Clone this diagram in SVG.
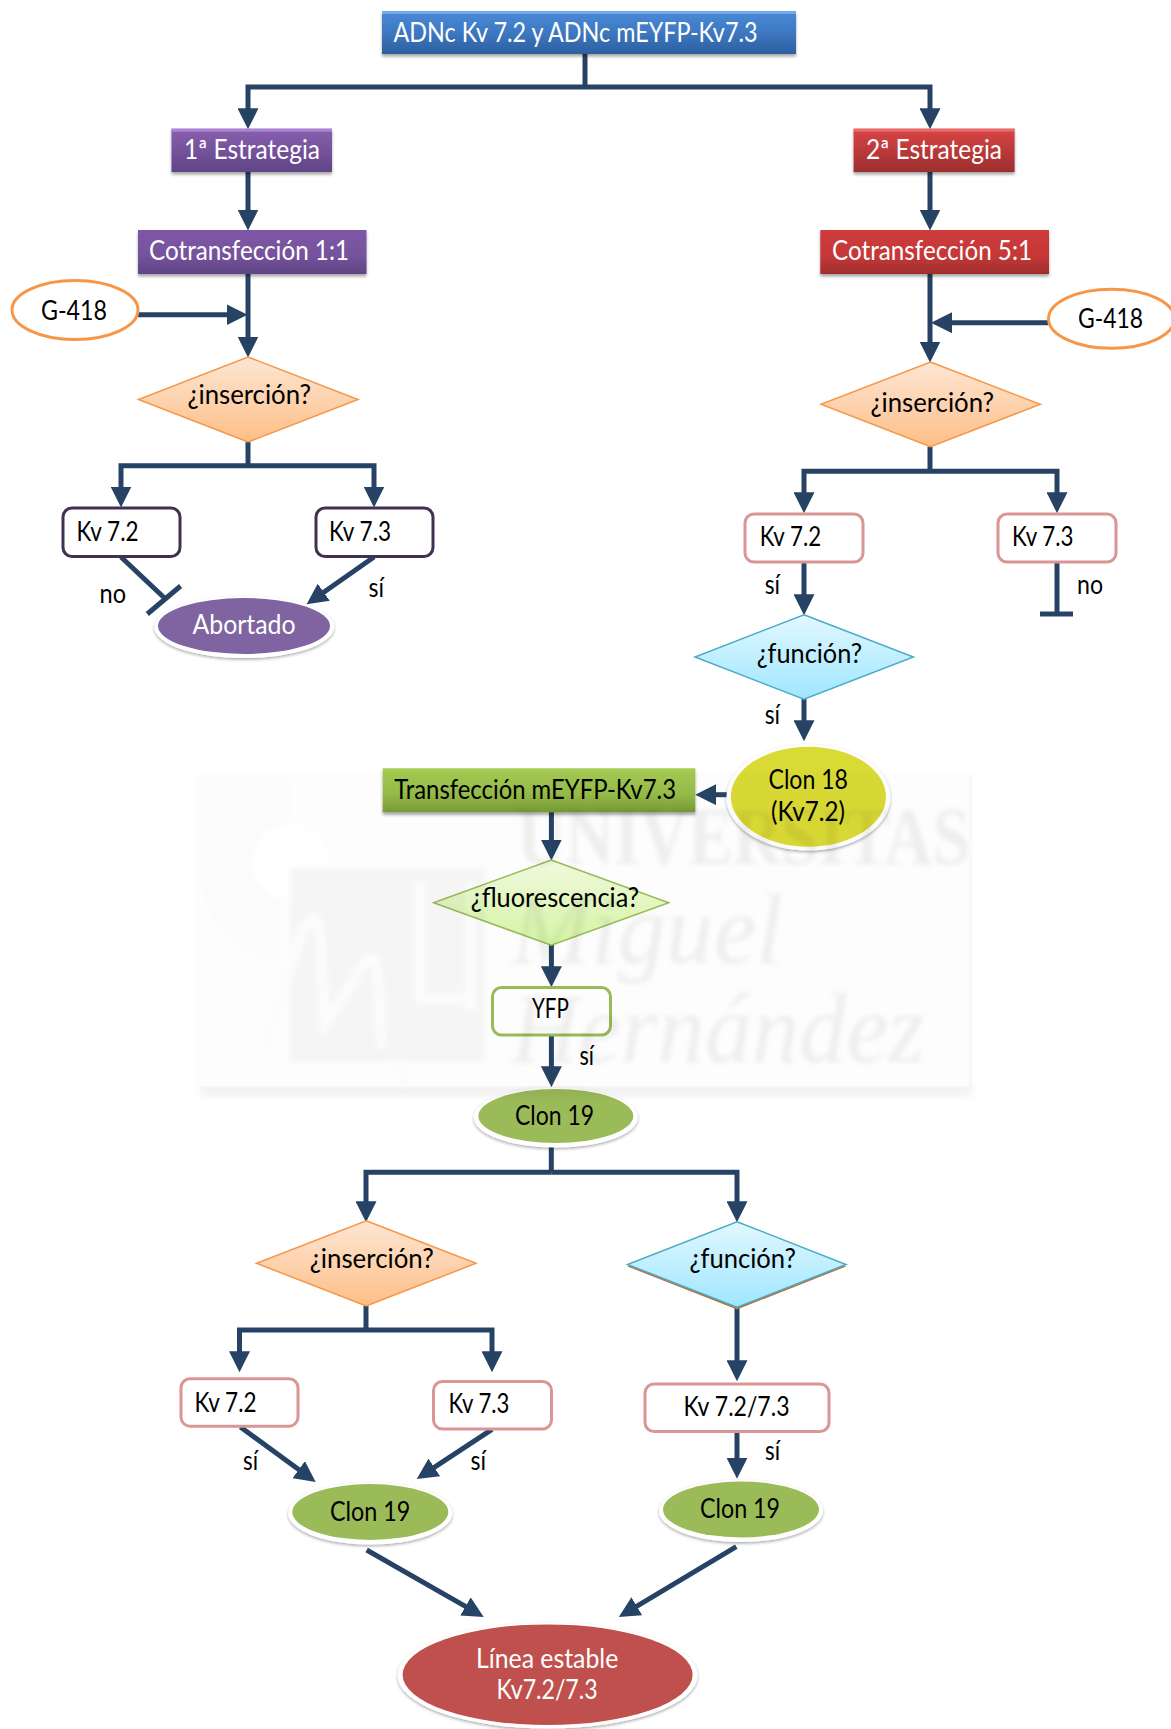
<svg xmlns="http://www.w3.org/2000/svg" width="1171" height="1729" viewBox="0 0 1171 1729">
<style>
text{font-family:"Lato","Carlito","Liberation Sans",sans-serif;font-size:26px;fill:#000}
text.w{fill:#fff}
.c{fill:none;stroke:#264365;stroke-width:5}
.a{marker-end:url(#head)}
.rw{fill:#fff;stroke-width:3}
.wt{font-family:"Liberation Serif",serif;fill:#eeeeee}
</style>
<defs>
<marker id="head" viewBox="0 0 21 21" markerWidth="21" markerHeight="21" refX="10.5" refY="10.5" orient="auto" markerUnits="userSpaceOnUse"><path d="M0,0L21,10.5L0,21z" fill="#264365"/></marker>
<filter id="sh" x="-10%" y="-15%" width="120%" height="140%"><feDropShadow dx="0" dy="2.5" stdDeviation="1.8" flood-color="#000" flood-opacity=".35"/></filter>
<filter id="sh2" x="-10%" y="-15%" width="120%" height="140%"><feDropShadow dx="0" dy="1.5" stdDeviation="1.4" flood-color="#000" flood-opacity=".35"/></filter>
<filter id="bl" x="-5%" y="-5%" width="110%" height="110%"><feGaussianBlur stdDeviation="2.4"/></filter>
<filter id="bl2" x="-5%" y="-30%" width="110%" height="160%"><feGaussianBlur stdDeviation="4"/></filter>
<linearGradient id="gBlue" x1="0" y1="0" x2="0" y2="1"><stop offset="0" stop-color="#4a8ad8"/><stop offset=".45" stop-color="#3f7ac4"/><stop offset="1" stop-color="#2c5f9f"/></linearGradient>
<linearGradient id="gPur" x1="0" y1="0" x2="0" y2="1"><stop offset="0" stop-color="#8a5fb0"/><stop offset="1" stop-color="#5f4686"/></linearGradient>
<linearGradient id="gPur2" x1="0" y1="0" x2="0" y2="1"><stop offset="0" stop-color="#7e58a6"/><stop offset=".6" stop-color="#75529c"/><stop offset="1" stop-color="#5e4483"/></linearGradient>
<linearGradient id="gRed" x1="0" y1="0" x2="0" y2="1"><stop offset="0" stop-color="#d94444"/><stop offset="1" stop-color="#9d2f2f"/></linearGradient>
<linearGradient id="gRed2" x1="0" y1="0" x2="0" y2="1"><stop offset="0" stop-color="#cf3b3b"/><stop offset=".6" stop-color="#c53838"/><stop offset="1" stop-color="#9f2e2e"/></linearGradient>
<linearGradient id="gGrn" x1="0" y1="0" x2="0" y2="1"><stop offset="0" stop-color="#a6cc52"/><stop offset=".6" stop-color="#95bb48"/><stop offset="1" stop-color="#769a35"/></linearGradient>
<linearGradient id="gOr" x1="0" y1="0" x2="0" y2="1"><stop offset="0" stop-color="#fde6d4"/><stop offset="1" stop-color="#fdbf88"/></linearGradient>
<linearGradient id="gCy" x1="0" y1="0" x2="0" y2="1"><stop offset="0" stop-color="#e2f8ff"/><stop offset="1" stop-color="#9fe6ff"/></linearGradient>
<linearGradient id="gLg" x1="0" y1="0" x2="0" y2="1"><stop offset="0" stop-color="#f1fbdf"/><stop offset="1" stop-color="#d7f6a6"/></linearGradient>
</defs>
<rect width="1171" height="1729" fill="#fff"/>

<g id="connectors" class="connectors">
<path class="c" d="M585,54V87"/>
<path class="c a" d="M585,87H248V118.7"/>
<path class="c a" d="M585,87H930V118.7"/>
<path class="c a" d="M248,172V220"/>
<path class="c a" d="M930,172V220"/>
<path class="c a" d="M248,274V347"/>
<path class="c a" d="M138,314.7H237"/>
<path class="c a" d="M930,274V352"/>
<path class="c a" d="M1048,322.7H941.5"/>
<path class="c" d="M248,442V465.7"/>
<path class="c a" d="M248,465.7H121V497"/>
<path class="c a" d="M248,465.7H374V497"/>
<path class="c" d="M930,446.7V471.3"/>
<path class="c a" d="M930,471.3H804V502.7"/>
<path class="c a" d="M930,471.3H1057V502.7"/>
<path class="c" d="M121,557L164.5,598"/>
<path class="c" d="M147.3,614L180.6,586"/>
<path class="c a" d="M374,557L315.2,598.3"/>
<path class="c a" d="M804,562V604.7"/>
<path class="c" d="M1057,562V614"/>
<path class="c" d="M1040,614H1073"/>
<path class="c a" d="M804,699V730.7"/>
<path class="c a" d="M727,794.7H705.7"/>
<path class="c a" d="M551.4,812V850"/>
<path class="c a" d="M551.4,945V976.7"/>
<path class="c a" d="M551.4,1035V1076.7"/>
<path class="c" d="M551.3,1147V1172.3"/>
<path class="c a" d="M551.3,1172.3H366V1211.7"/>
<path class="c a" d="M551.3,1172.3H737V1211.7"/>
<path class="c" d="M366,1306V1330"/>
<path class="c a" d="M366,1330H239.5V1361.7"/>
<path class="c a" d="M366,1330H492V1361.7"/>
<path class="c a" d="M737,1307V1370.7"/>
<path class="c a" d="M240.4,1427L307.2,1475.8"/>
<path class="c a" d="M492,1429.3L425.5,1473.2"/>
<path class="c a" d="M737,1432V1468.3"/>
<path class="c a" d="M366.7,1550L474.6,1611.7"/>
<path class="c a" d="M736.3,1546.7L627.8,1611.6"/>
</g>

<g id="n-adnc"><rect x="382" y="11" width="414" height="43" fill="url(#gBlue)" filter="url(#sh)"/><rect x="382" y="11" width="414" height="3" fill="#72aaee"/><text class="w" x="393.5" y="42" textLength="364" lengthAdjust="spacingAndGlyphs">ADNc Kv 7.2 y ADNc mEYFP-Kv7.3</text></g>
<g id="n-est1"><rect x="171.5" y="128.7" width="160.5" height="43.3" fill="url(#gPur)" filter="url(#sh)"/><rect x="171.5" y="128.7" width="160.5" height="3" fill="#ab84d4"/><text class="w" x="184" y="159" textLength="136" lengthAdjust="spacingAndGlyphs">1ª Estrategia</text></g>
<g id="n-est2"><rect x="853.6" y="128.7" width="161" height="43.3" fill="url(#gRed)" filter="url(#sh)"/><rect x="853.6" y="128.7" width="161" height="3" fill="#ea6a6a"/><text class="w" x="866" y="159" textLength="136" lengthAdjust="spacingAndGlyphs">2ª Estrategia</text></g>
<g id="n-cot1"><rect x="138" y="230" width="228.5" height="44" fill="url(#gPur2)" filter="url(#sh)"/><text class="w" x="149" y="260" textLength="200" lengthAdjust="spacingAndGlyphs">Cotransfección 1:1</text></g>
<g id="n-cot5"><rect x="820.3" y="230" width="228.7" height="44" fill="url(#gRed2)" filter="url(#sh)"/><text class="w" x="832" y="260" textLength="200" lengthAdjust="spacingAndGlyphs">Cotransfección 5:1</text></g>
<g id="n-g418a"><ellipse cx="75" cy="310" rx="63" ry="29.5" fill="#fff" stroke="#f79646" stroke-width="3"/><text x="41" y="320" textLength="66" lengthAdjust="spacingAndGlyphs">G-418</text></g>
<g id="n-g418b"><ellipse cx="1111.5" cy="318.7" rx="63" ry="29.5" fill="#fff" stroke="#f79646" stroke-width="3"/><text x="1078" y="328" textLength="65" lengthAdjust="spacingAndGlyphs">G-418</text></g>
<g id="n-ins1"><polygon points="248,357 358,399.5 248,442 138.5,399.5" fill="url(#gOr)" stroke="#f79646" stroke-width="1.5"/><text x="187.5" y="404" textLength="123.5" lengthAdjust="spacingAndGlyphs">¿inserción?</text></g>
<g id="n-ins2"><polygon points="930.5,362 1040.3,404.3 930.5,446.7 821,404.3" fill="url(#gOr)" stroke="#f79646" stroke-width="1.5"/><text x="870.5" y="411.7" textLength="123.5" lengthAdjust="spacingAndGlyphs">¿inserción?</text></g>
<g id="n-k72a"><rect x="63" y="508" width="117" height="48.5" rx="9" class="rw" stroke="#403152"/><text x="76.5" y="540.7" textLength="62" lengthAdjust="spacingAndGlyphs">Kv 7.2</text></g>
<g id="n-k73a"><rect x="316" y="508" width="117" height="48.5" rx="9" class="rw" stroke="#403152"/><text x="329" y="540.7" textLength="62" lengthAdjust="spacingAndGlyphs">Kv 7.3</text></g>
<g id="n-abort"><ellipse cx="244.2" cy="627" rx="90" ry="31" fill="#fff" filter="url(#sh2)"/><ellipse cx="244" cy="626" rx="86" ry="28" fill="#8064a2"/><text class="w" x="192.5" y="634" textLength="103" lengthAdjust="spacingAndGlyphs">Abortado</text></g>
<g id="n-k72b"><rect x="745" y="514" width="118" height="48" rx="9" class="rw" stroke="#d99694"/><text x="759.7" y="546" textLength="61.5" lengthAdjust="spacingAndGlyphs">Kv 7.2</text></g>
<g id="n-k73b"><rect x="998" y="514" width="118" height="48" rx="9" class="rw" stroke="#d99694"/><text x="1012" y="546" textLength="61.5" lengthAdjust="spacingAndGlyphs">Kv 7.3</text></g>
<g id="n-fun1"><polygon points="804,614.7 913.4,657 804,699.3 695,657" fill="url(#gCy)" stroke="#4bacc6" stroke-width="1.5"/><text x="756.7" y="662.7" textLength="105.3" lengthAdjust="spacingAndGlyphs">¿función?</text></g>
<g id="n-c18"><ellipse cx="808.4" cy="797.5" rx="82" ry="53" fill="#fff" filter="url(#sh2)"/><ellipse cx="808.4" cy="796.7" rx="77.5" ry="50" fill="#dada35"/><text x="768.5" y="789.3" textLength="79.5" lengthAdjust="spacingAndGlyphs">Clon 18</text><text x="771" y="820.7" textLength="74" lengthAdjust="spacingAndGlyphs">(Kv7.2)</text></g>
<g id="n-trans"><rect x="382.7" y="768.3" width="312.6" height="44" fill="url(#gGrn)" filter="url(#sh)"/><text x="394.3" y="799.3" textLength="281.7" lengthAdjust="spacingAndGlyphs">Transfección mEYFP-Kv7.3</text></g>
<g id="n-fluo"><polygon points="551.2,860 668.8,902.7 551.2,945.3 433.6,902.7" fill="url(#gLg)" stroke="#9bbb59" stroke-width="1.5"/><text x="470.8" y="907.3" textLength="168.2" lengthAdjust="spacingAndGlyphs">¿fluorescencia?</text></g>
<g id="n-yfp"><rect x="492.5" y="987.5" width="118" height="47.5" rx="9" class="rw" stroke="#9bbb59"/><text x="532" y="1018" textLength="36.8" lengthAdjust="spacingAndGlyphs">YFP</text></g>
<g id="n-c19a"><ellipse cx="555.8" cy="1117.5" rx="82" ry="30" fill="#fff" filter="url(#sh2)"/><ellipse cx="555.8" cy="1116" rx="77.5" ry="27" fill="#9bbb59"/><text x="515" y="1125" textLength="79" lengthAdjust="spacingAndGlyphs">Clon 19</text></g>
<g id="n-ins3"><polygon points="366.2,1220.7 476,1263.3 366.2,1306 256.5,1263.3" fill="url(#gOr)" stroke="#f79646" stroke-width="1.5"/><text x="309.8" y="1268.3" textLength="123.9" lengthAdjust="spacingAndGlyphs">¿inserción?</text></g>
<g id="n-fun2"><polygon points="737,1224 846,1266.5 737,1309.5 627.5,1266.5" fill="#b8713a"/><polygon points="737,1221.7 846,1264.5 737,1307.3 627.5,1264.5" fill="url(#gCy)" stroke="#4bacc6" stroke-width="1.5"/><text x="689.5" y="1268.3" textLength="106.5" lengthAdjust="spacingAndGlyphs">¿función?</text></g>
<g id="n-k72c"><rect x="181" y="1378.7" width="117" height="47.5" rx="9" class="rw" stroke="#d99694"/><text x="194.5" y="1411.7" textLength="62" lengthAdjust="spacingAndGlyphs">Kv 7.2</text></g>
<g id="n-k73c"><rect x="433.5" y="1381.5" width="118" height="47.5" rx="9" class="rw" stroke="#d99694"/><text x="448.4" y="1413.3" textLength="61" lengthAdjust="spacingAndGlyphs">Kv 7.3</text></g>
<g id="n-k723"><rect x="645" y="1384" width="184" height="47.5" rx="9" class="rw" stroke="#d99694"/><text x="683.5" y="1416" textLength="106" lengthAdjust="spacingAndGlyphs">Kv 7.2/7.3</text></g>
<g id="n-c19b"><ellipse cx="370.3" cy="1513.5" rx="82" ry="31" fill="#fff" filter="url(#sh2)"/><ellipse cx="370.3" cy="1512" rx="78" ry="28" fill="#9bbb59"/><text x="330" y="1520.7" textLength="80.3" lengthAdjust="spacingAndGlyphs">Clon 19</text></g>
<g id="n-c19c"><ellipse cx="741" cy="1511" rx="82" ry="31" fill="#fff" filter="url(#sh2)"/><ellipse cx="741" cy="1509.5" rx="78" ry="28" fill="#9bbb59"/><text x="700" y="1517.7" textLength="80" lengthAdjust="spacingAndGlyphs">Clon 19</text></g>
<g id="n-linea"><ellipse cx="547.6" cy="1675.5" rx="150" ry="53" fill="#fff" filter="url(#sh2)"/><ellipse cx="547.6" cy="1674.7" rx="145" ry="50.3" fill="#c0504d"/><text class="w" x="476" y="1667.7" textLength="142.3" lengthAdjust="spacingAndGlyphs">Línea estable</text><text class="w" x="496.6" y="1699.3" textLength="101" lengthAdjust="spacingAndGlyphs">Kv7.2/7.3</text></g>

<g id="labels">
<text x="99.5" y="602.7" textLength="26.5" lengthAdjust="spacingAndGlyphs">no</text>
<text x="368.5" y="596.7" textLength="15.5" lengthAdjust="spacingAndGlyphs">sí</text>
<text x="764.7" y="594" textLength="15.3" lengthAdjust="spacingAndGlyphs">sí</text>
<text x="1077" y="594" textLength="26" lengthAdjust="spacingAndGlyphs">no</text>
<text x="764.7" y="724" textLength="15.3" lengthAdjust="spacingAndGlyphs">sí</text>
<text x="579.5" y="1065" textLength="14.5" lengthAdjust="spacingAndGlyphs">sí</text>
<text x="243" y="1470" textLength="15" lengthAdjust="spacingAndGlyphs">sí</text>
<text x="470.5" y="1470" textLength="15.5" lengthAdjust="spacingAndGlyphs">sí</text>
<text x="765" y="1460" textLength="15" lengthAdjust="spacingAndGlyphs">sí</text>
</g>

<g id="watermark" style="mix-blend-mode:multiply">
<rect x="200" y="1084" width="772" height="12" fill="#f0f0f0" filter="url(#bl2)"/>
<rect x="967" y="775" width="5" height="315" fill="#f5f5f5" filter="url(#bl)"/>
<rect x="195" y="772" width="774" height="314" fill="#fdfdfd"/>
<g filter="url(#bl)">
<path d="M200,780V868A90,95 0 0 0 280,962V868H290V780z" fill="#fbfbfb"/>
<circle cx="290" cy="862" r="38" fill="#fff"/>
<rect x="290" y="868" width="195" height="194" fill="#f5f5f5"/>
<path d="M263,1048L300,938Q316,900 320,935L325,1025L363,965Q376,950 378,975L382,1048M420,882V998H470M470,882V1010M395,1060L405,1085" fill="none" stroke="#fcfcfc" stroke-width="10"/>
<text class="wt" x="517" y="864" font-weight="bold" style="font-size:82px" textLength="453" lengthAdjust="spacingAndGlyphs">UNIVERSITAS</text>
<text class="wt" x="511" y="963" style="font-size:100px;font-style:italic" textLength="272" lengthAdjust="spacingAndGlyphs">Miguel</text>
<text class="wt" x="511" y="1062" style="font-size:100px;font-style:italic" textLength="414" lengthAdjust="spacingAndGlyphs">Hernández</text>
</g>
</g>
</svg>
